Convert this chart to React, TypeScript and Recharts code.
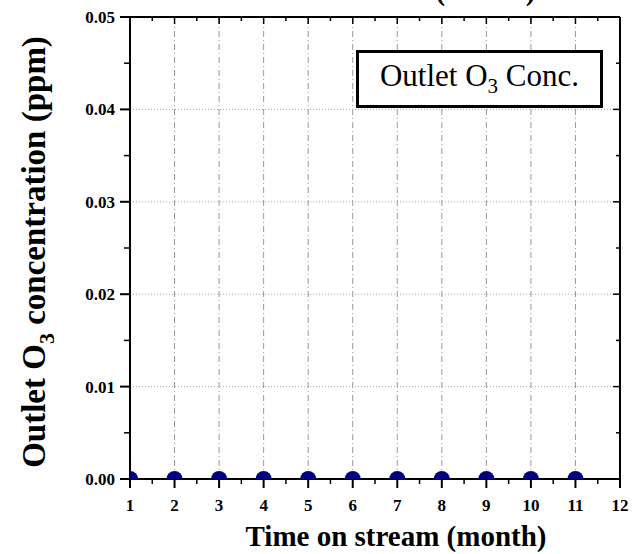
import React from "react";
import { Line, LineChart, ReferenceLine, XAxis, YAxis } from "recharts";

const months = [1, 2, 3, 4, 5, 6, 7, 8, 9, 10, 11];
const outletO3 = [0, 0, 0, 0, 0, 0, 0, 0, 0, 0, 0];

const xMajorTicks = [1, 2, 3, 4, 5, 6, 7, 8, 9, 10, 11, 12];
const xMinorTicks = [1.5, 2.5, 3.5, 4.5, 5.5, 6.5, 7.5, 8.5, 9.5, 10.5, 11.5];
const yMajorTicks = [0, 0.01, 0.02, 0.03, 0.04, 0.05];
const yMinorTicks = [0.005, 0.015, 0.025, 0.035, 0.045];

const xTitle = "Time on stream (month)";
const legendLabel = "Outlet O";

const data = months.map((m, i) => ({ month: m, conc: outletO3[i] }));
const xAllTicks = [...xMajorTicks, ...xMinorTicks].sort((a, b) => a - b);
const yAllTicks = [...yMajorTicks, ...yMinorTicks].sort((a, b) => a - b);

const FONT = "'Liberation Serif', 'Times New Roman', serif";
const isMajorX = (v: number) => xMajorTicks.includes(v);
const isMajorY = (v: number) => yMajorTicks.includes(v);

// tick marks drawn by hand so majors and minors can differ in length
function BottomTick({ x, y, payload }: any) {
  const major = isMajorX(payload.value);
  return (
    <g>
      <line x1={x} x2={x} y1={y} y2={y + (major ? 9 : 5)} stroke="#000" strokeWidth={major ? 2 : 1.5} />
      {major && (
        <text x={x} y={y + 32} textAnchor="middle" fontFamily={FONT} fontSize={17} fontWeight={700} fill="#000">
          {payload.value}
        </text>
      )}
    </g>
  );
}

function TopTick({ x, y, payload }: any) {
  const major = isMajorX(payload.value);
  return <line x1={x} x2={x} y1={y} y2={y + (major ? 7 : 4)} stroke="#000" strokeWidth={1.5} />;
}

function LeftTick({ x, y, payload }: any) {
  const major = isMajorY(payload.value);
  return (
    <g>
      <line x1={x} x2={x - (major ? 10 : 6)} y1={y} y2={y} stroke="#000" strokeWidth={major ? 2 : 1.5} />
      {major && (
        <text x={x - 15} y={y + 6} textAnchor="end" fontFamily={FONT} fontSize={17} fontWeight={700} fill="#000">
          {payload.value.toFixed(2)}
        </text>
      )}
    </g>
  );
}

function RightTick({ x, y, payload }: any) {
  const major = isMajorY(payload.value);
  return <line x1={x} x2={x - (major ? 7 : 4)} y1={y} y2={y} stroke="#000" strokeWidth={1.5} />;
}

function XTitle({ viewBox, dy, shift }: any) {
  const cx = viewBox.x + viewBox.width / 2 + shift;
  return (
    <text x={cx} y={viewBox.y + dy} textAnchor="middle" fontFamily={FONT} fontSize={29} fontWeight={700} fill="#000">
      {xTitle}
    </text>
  );
}

function YTitle({ viewBox }: any) {
  const cx = viewBox.x - 84;
  const cy = viewBox.y + viewBox.height / 2 + 4;
  return (
    <text
      x={cx}
      y={cy}
      transform={`rotate(-90 ${cx} ${cy})`}
      textAnchor="middle"
      fontFamily={FONT}
      fontSize={33}
      fontWeight={700}
      fill="#000"
    >
      Outlet O
      <tspan dy={9} fontSize={22}>
        3
      </tspan>
      <tspan dy={-9}> concentration (ppm)</tspan>
    </text>
  );
}

export default function App() {
  return (
    <div style={{ position: "absolute", left: 0, top: 0, width: 633, height: 554, background: "#fff" }}>
      <LineChart width={633} height={554} data={data} margin={{ top: 16, right: 12, bottom: 74, left: 129 }}>
        {xMajorTicks.slice(1, -1).map((t) => (
          <ReferenceLine key={`gx${t}`} xAxisId="main" yAxisId="main" x={t} stroke="#999" strokeDasharray="6 3 1 3" />
        ))}
        {yMajorTicks.slice(1, -1).map((t) => (
          <ReferenceLine key={`gy${t}`} xAxisId="main" yAxisId="main" y={t} stroke="#aaa" strokeDasharray="1 2" />
        ))}

        <XAxis
          xAxisId="main"
          type="number"
          dataKey="month"
          domain={[1, 12]}
          ticks={xAllTicks}
          interval={0}
          height={1}
          tickSize={0}
          tickMargin={0}
          tickLine={false}
          tick={<BottomTick />}
          axisLine={{ stroke: "#000", strokeWidth: 2 }}
          allowDataOverflow
          label={{ content: (p: any) => <XTitle {...p} dy={67} shift={21} /> }}
        />
        <XAxis
          xAxisId="top"
          orientation="top"
          type="number"
          dataKey="month"
          domain={[1, 12]}
          ticks={xAllTicks}
          interval={0}
          height={1}
          tickSize={0}
          tickMargin={0}
          tickLine={false}
          tick={<TopTick />}
          axisLine={{ stroke: "#000", strokeWidth: 2 }}
          allowDataOverflow
          label={{ content: (p: any) => <XTitle {...p} dy={-16} shift={10} /> }}
        />
        <YAxis
          yAxisId="main"
          type="number"
          domain={[0, 0.05]}
          ticks={yAllTicks}
          interval={0}
          width={1}
          tickSize={0}
          tickMargin={0}
          tickLine={false}
          tick={<LeftTick />}
          axisLine={{ stroke: "#000", strokeWidth: 2 }}
          allowDataOverflow
          label={{ content: (p: any) => <YTitle {...p} /> }}
        />
        <YAxis
          yAxisId="right"
          orientation="right"
          type="number"
          domain={[0, 0.05]}
          ticks={yAllTicks}
          interval={0}
          width={1}
          tickSize={0}
          tickMargin={0}
          tickLine={false}
          tick={<RightTick />}
          axisLine={{ stroke: "#000", strokeWidth: 2 }}
          allowDataOverflow
        />

        {/* invisible series so the frame axes (top / right) get a domain and render */}
        <Line
          xAxisId="top"
          yAxisId="right"
          dataKey="conc"
          stroke="none"
          dot={false}
          activeDot={false}
          legendType="none"
          isAnimationActive={false}
        />
        <Line
          xAxisId="main"
          yAxisId="main"
          dataKey="conc"
          stroke="#000080"
          strokeWidth={2}
          dot={{ r: 8, fill: "#000080", stroke: "none" }}
          activeDot={false}
          isAnimationActive={false}
        />
      </LineChart>
      <div
        style={{
          position: "absolute",
          left: 356,
          top: 50,
          width: 247,
          height: 58,
          boxSizing: "border-box",
          border: "3px solid #000",
          background: "#fff",
          display: "flex",
          alignItems: "center",
          justifyContent: "center",
          fontFamily: FONT,
          fontSize: 31,
          color: "#000",
        }}
      >
        <span>
          {legendLabel}
          <sub style={{ fontSize: 21 }}>3</sub> Conc.
        </span>
      </div>
    </div>
  );
}
